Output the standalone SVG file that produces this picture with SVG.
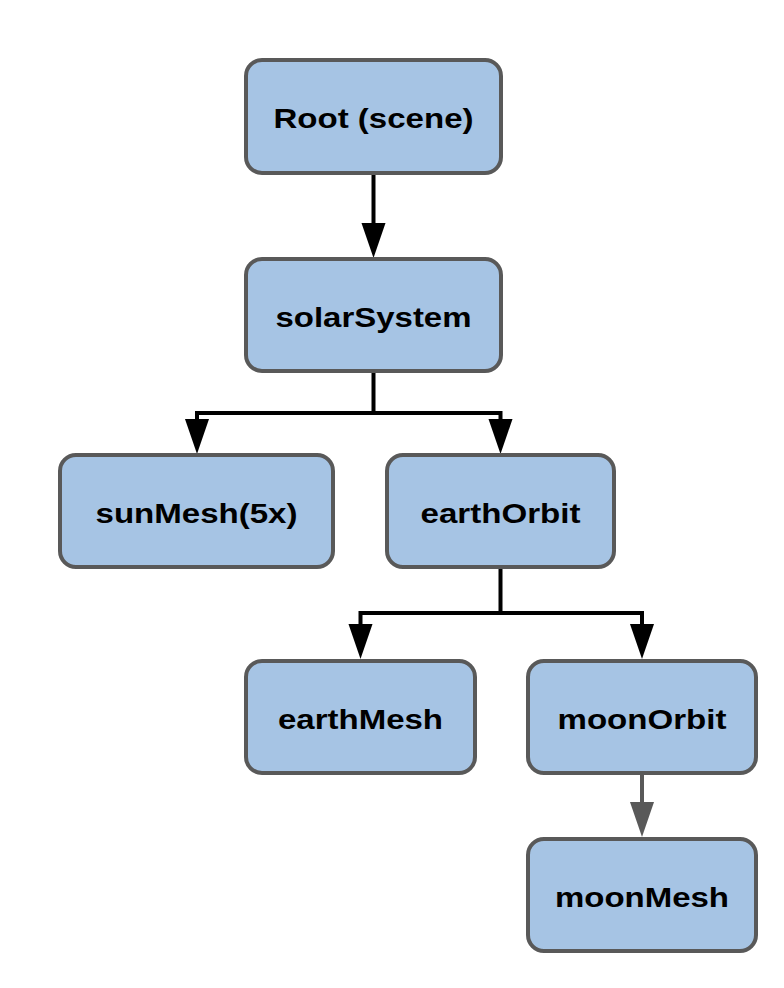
<svg xmlns="http://www.w3.org/2000/svg" width="784" height="988" viewBox="0 0 784 988">
  <style>
    .node rect { fill: #A6C4E4; stroke: #595959; stroke-width: 4; }
    .node text { font-family: "Liberation Sans", Arial, sans-serif; font-weight: bold; font-size: 28px; fill: #000; text-anchor: middle; }
    .edge { fill: none; stroke: #000; stroke-width: 4; }
    .edge.gray { stroke: #595959; }
  </style>
  <defs>
    <marker id="arr" markerUnits="userSpaceOnUse" viewBox="0 0 35 24" markerWidth="35" markerHeight="24" refX="15" refY="12" orient="auto" overflow="visible">
      <path d="M0,0 L35,12 L0,24 Z" fill="#000"/>
    </marker>
    <marker id="arrGray" markerUnits="userSpaceOnUse" viewBox="0 0 35 24" markerWidth="35" markerHeight="24" refX="15" refY="12" orient="auto" overflow="visible">
      <path d="M0,0 L35,12 L0,24 Z" fill="#595959"/>
    </marker>
  </defs>
  <rect width="784" height="988" fill="#fff"/>
  <g id="connectors">
    <path class="edge" d="M373.5 174 V238" marker-end="url(#arr)"/>
    <path class="edge" d="M373.5 372 V413 H197 V434" marker-end="url(#arr)"/>
    <path class="edge" d="M373.5 413 H500.5 V434" marker-end="url(#arr)"/>
    <path class="edge" d="M500.5 568 V613 H360.5 V639" marker-end="url(#arr)"/>
    <path class="edge" d="M500.5 613 H642 V639" marker-end="url(#arr)"/>
    <path class="edge gray" d="M642 774 V817" marker-end="url(#arrGray)"/>
  </g>
  <g id="root" class="node">
    <rect x="246" y="60" width="255" height="113" rx="16"/>
    <text x="373.5" y="128" textLength="200" lengthAdjust="spacingAndGlyphs">Root (scene)</text>
  </g>
  <g id="solarSystem" class="node">
    <rect x="246" y="259" width="255" height="112" rx="16"/>
    <text x="373.5" y="326.5" textLength="196" lengthAdjust="spacingAndGlyphs">solarSystem</text>
  </g>
  <g id="sunMesh" class="node">
    <rect x="60" y="455" width="273" height="112" rx="16"/>
    <text x="196.5" y="522.5" textLength="202" lengthAdjust="spacingAndGlyphs">sunMesh(5x)</text>
  </g>
  <g id="earthOrbit" class="node">
    <rect x="387" y="455" width="227" height="112" rx="16"/>
    <text x="500.5" y="522.5" textLength="160" lengthAdjust="spacingAndGlyphs">earthOrbit</text>
  </g>
  <g id="earthMesh" class="node">
    <rect x="246" y="661" width="229" height="112" rx="16"/>
    <text x="360.5" y="728.5" textLength="165" lengthAdjust="spacingAndGlyphs">earthMesh</text>
  </g>
  <g id="moonOrbit" class="node">
    <rect x="528" y="661" width="228" height="112" rx="16"/>
    <text x="642" y="728.5" textLength="169" lengthAdjust="spacingAndGlyphs">moonOrbit</text>
  </g>
  <g id="moonMesh" class="node">
    <rect x="528" y="839" width="228" height="112" rx="16"/>
    <text x="642" y="906.5" textLength="174" lengthAdjust="spacingAndGlyphs">moonMesh</text>
  </g>
</svg>
